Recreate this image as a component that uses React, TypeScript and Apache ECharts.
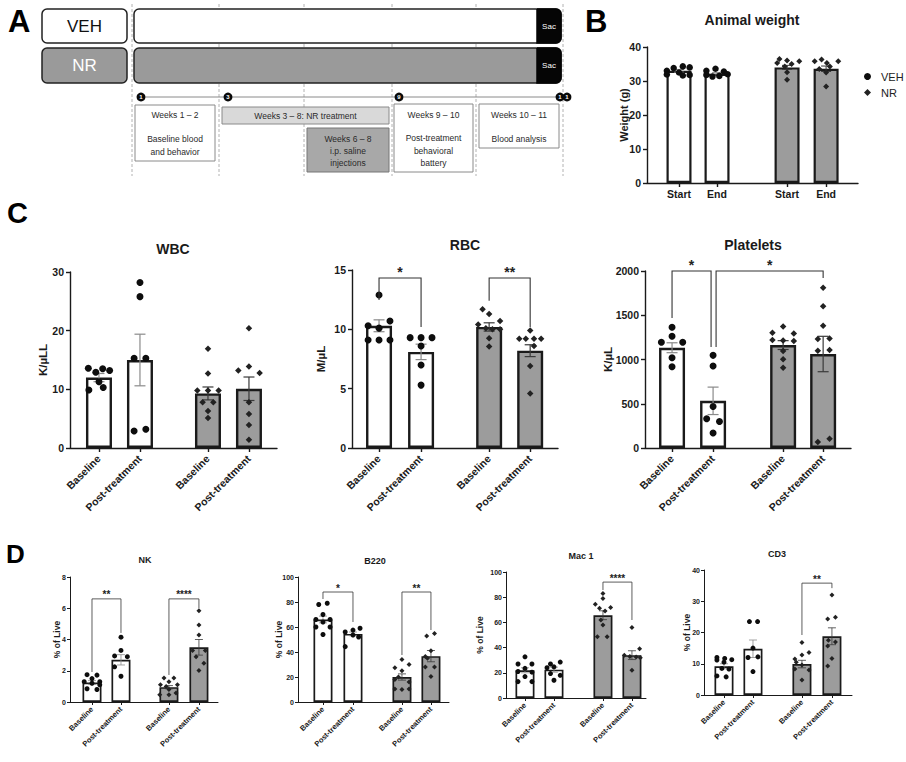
import React, { useEffect, useRef } from "react";
import * as echarts from "echarts";

const FONT = "Arial, 'Liberation Sans', Helvetica, sans-serif";

// ---------------- categories / tick labels ----------------
const bloodLabels = ["Baseline", "Post-treatment", "Baseline", "Post-treatment"];
const weightLabels = ["Start", "End", "Start", "End"];
const groupOfBar = [0, 0, 1, 1]; // 0 = VEH, 1 = NR
const legendNames = ["VEH", "NR"];

// ---------------- Panel B: Animal weight ----------------
const weightTicks = [0, 10, 20, 30, 40];
const weightMeans = [33.0, 32.1, 34.0, 33.6];
const weightSem = [0.4, 0.35, 0.6, 0.8];
const weightPoints = [
  [34.3, 34.0, 33.8, 33.0, 32.5, 31.9, 31.8, 31.6],
  [33.6, 33.0, 32.8, 32.0, 31.8, 31.5, 31.3],
  [36.5, 36.0, 35.8, 35.3, 35.0, 34.3, 32.6, 30.4],
  [36.3, 35.8, 35.8, 35.3, 34.3, 33.5, 32.5, 28.4],
];
const weightJitter = [
  [0.5, 1.4, -0.7, -1.6, 0, -1.6, 1.4, 0.5],
  [-0.2, -1.4, 0.9, 1.4, -1.4, 0.3, -0.6],
  [-1, 0, 1.6, -1.3, 0.6, -0.3, 0, 0],
  [-0.6, -1.5, 1.6, 0.1, 0.5, -0.9, 0, 0],
];

// ---------------- Panel C: WBC ----------------
const wbcTicks = [0, 10, 20, 30];
const wbcMeans = [12.0, 15.0, 9.3, 10.1];
const wbcSem = [0.7, 4.4, 1.1, 2.0];
const wbcPoints = [
  [13.6, 13.5, 13.2, 12.9, 11.3, 10.3, 9.9],
  [28.2, 25.8, 15.3, 15.3, 3.2, 2.9],
  [16.9, 12.7, 9.8, 9.8, 9.8, 7.8, 7.8, 6.3, 5.1],
  [20.4, 13.9, 13.2, 12.8, 7.8, 5.8, 3.9, 1.4],
];
const wbcJitter = [
  [-1, 0.35, 1, -0.3, 0, 0.4, -0.95],
  [0, 0, -0.55, 0.55, 0.55, -0.55],
  [0, 0, -1, 0, 1, -0.5, 0.5, 0, 0],
  [0, 0, -1, 1, 0, 0, 0, 0],
];

// ---------------- Panel C: RBC ----------------
const rbcTicks = [0, 5, 10, 15];
const rbcMeans = [10.3, 8.1, 10.2, 8.2];
const rbcSem = [0.5, 0.65, 0.35, 0.5];
const rbcPoints = [
  [12.9, 10.7, 10.3, 10.1, 9.1, 9.1, 9.1],
  [9.3, 9.3, 9.3, 8.6, 7.0, 5.3],
  [11.7, 11.3, 10.7, 10.4, 10.1, 10.0, 10.0, 9.25, 8.55],
  [9.9, 9.2, 9.2, 9.2, 9.2, 8.6, 6.9, 4.6],
];
const rbcJitter = [
  [0, 1, -1, 0, -1, 0, 1],
  [-1, 0, 1, 0, 0, 0],
  [-0.6, 0, 1, -1, -0.3, 0.3, 1, 0, 0],
  [0, -1, -0.4, 0.35, 1, 0.35, 0, 0],
];
const rbcBrackets = [
  [0, 1, 14.33, 12.47, 10.2, "*"],
  [2, 3, 14.33, 12.4, 10.2, "**"],
];

// ---------------- Panel C: Platelets ----------------
const pltTicks = [0, 500, 1000, 1500, 2000];
const pltMeans = [1133, 533, 1163, 1062];
const pltSem = [56, 155, 50, 200];
const pltPoints = [
  [1365, 1262, 1195, 1195, 1020, 918],
  [1047, 927, 469, 330, 300, 169],
  [1373, 1302, 1294, 1219, 1215, 1208, 1096, 1002, 908],
  [1812, 1602, 1381, 1238, 1231, 1107, 1099, 105, 68],
];
const pltJitter = [
  [0, 0, -1, 1, 0, 0],
  [0, 0, 0, -0.6, 0.6, 0],
  [0, -1, 1, -1, 0, 1, 0, 0, 0],
  [0, 0, 0, 0.6, -0.5, 0.6, -0.5, 0.6, -0.5],
];
const pltBrackets = [
  [0, 1, 2000, 1469, 1141, "*"],
  [1, 3, 2000, 1141, 1921, "*"],
];

// ---------------- Panel D: NK ----------------
const nkTicks = [0, 2, 4, 6, 8];
const nkMeans = [1.25, 2.7, 0.95, 3.5];
const nkSem = [0.12, 0.33, 0.1, 0.5];
const nkPoints = [
  [1.75, 1.72, 1.5, 1.3, 1.3, 1.2, 1.1, 0.85, 0.8],
  [4.15, 3.3, 2.95, 2.9, 2.25, 1.65],
  [1.53, 1.53, 1.3, 1.1, 1.1, 1.0, 0.8, 0.57, 0.47, 0.47],
  [5.84, 4.93, 4.29, 3.3, 3.3, 2.9, 2.48, 2.02],
];
const nkJitter = [
  [-0.7, 0.7, 0, -1.1, 1.1, 0, 1.1, -0.7, 0.7],
  [0, 0, -0.9, 0.9, -0.9, 0],
  [-0.7, 0.7, 0, -1.2, 1.2, -0.4, 0, 1, -1.3, 0],
  [0, 0, 0, -0.9, 0.9, -0.4, 0.7, 0],
];
const nkBrackets = [
  [0, 1, 6.6, 1.92, 4.42, "**"],
  [2, 3, 6.6, 1.73, 6.0, "****"],
];

// ---------------- Panel D: B220 ----------------
const b220Ticks = [0, 20, 40, 60, 80, 100];
const b220Means = [66, 54.5, 20, 36.7];
const b220Sem = [2.7, 1.5, 2.5, 4.5];
const b220Points = [
  [79, 78, 70, 66, 66, 64, 60, 60, 54],
  [59, 57.5, 56, 53.6, 52, 44.3],
  [34, 30, 27.5, 25, 20, 18, 16, 10.5, 10, 10.5],
  [54.9, 52.8, 41, 36.5, 35, 28, 28, 20.4],
];
const b220Jitter = [
  [0.6, -0.6, 0, -1, 1, 0, -1, 1, 0],
  [1, 0, -1.1, 0, 0.8, -1.1],
  [0, 1, -1, 0, -0.5, -1, 1, -1, 0, 1],
  [0.5, -0.6, 0, -0.8, -0.5, -0.8, 0.5, 0],
];
const b220Brackets = [
  [0, 1, 88, 82.4, 64, "*"],
  [2, 3, 88, 37.6, 57.6, "**"],
];

// ---------------- Panel D: Mac 1 ----------------
const mac1Ticks = [0, 20, 40, 60, 80, 100];
const mac1Means = [22, 22.5, 65.7, 34];
const mac1Sem = [2, 2, 3.5, 3.5];
const mac1Points = [
  [32.7, 27, 27, 23.5, 21, 20.5, 17, 13, 13],
  [28.5, 27, 24.7, 24, 19.4, 18, 14.1],
  [83, 79, 74.5, 71.8, 71.3, 69, 62, 58, 48.7, 48.7],
  [56, 39, 34, 33, 32.5, 32, 22],
];
const mac1Jitter = [
  [0, -1, 1, 0, -1, 1, 0, -1, 1],
  [0.9, -0.5, 0, -1, -0.5, 0.9, 0],
  [0, 0, -1.1, 1.1, -0.5, 0.3, -0.3, 0, -0.8, 0.6],
  [0, 1.1, -1.1, -0.3, 0.6, 1.2, 0],
];
const mac1Brackets = [[2, 3, 92, 85.7, 61.9, "****"]];

// ---------------- Panel D: CD3 ----------------
const cd3Ticks = [0, 10, 20, 30, 40];
const cd3Means = [9.2, 14.8, 9.9, 18.8];
const cd3Sem = [0.8, 2.8, 1.2, 2.7];
const cd3Points = [
  [12, 11.7, 11.3, 11.2, 10.5, 8.5, 8.3, 6.1, 5.8],
  [23.5, 23.5, 15, 12.2, 12, 7.5],
  [16.8, 13.6, 12.8, 11.5, 10.5, 9.6, 8.3, 8, 4.8],
  [32, 24.9, 24.3, 17.5, 17, 15.7, 11.7, 9.3],
];
const cd3Jitter = [
  [-1, 0.1, 1.1, -1, 0, -0.3, 0.7, -1, 0.3],
  [-0.5, 0.65, 0, 0.7, -0.7, 0],
  [0, 1, 0, -1, -0.8, 0, -1, 1, 0],
  [0, 0.5, -0.6, -0.5, 0.5, -0.6, 0, -0.6],
];
const cd3Brackets = [[2, 3, 35.8, 19.2, 34.2, "**"]];

// ---------------- layout & style (not data) ----------------
const styleB = { barWidth: 25, barBorder: 2.2, axisWidth: 1.4, tickLen: 4, tickFont: 10.5, labelFont: 10.5, nameFont: 11, dot: 6.5, diamond: 6, jitterStep: 0.2, errWidth: 1, capHalf: 5, bracketWidth: 1.1, starFont: 14, starGap: 6, labelMargin: 5, yLabelMargin: 6, rotate: 0 };
const styleC = { barWidth: 26, barBorder: 2.4, axisWidth: 1.4, tickLen: 4, tickFont: 10.5, labelFont: 10.5, nameFont: 11.5, dot: 7, diamond: 6.5, jitterStep: 0.26, errWidth: 1.2, capHalf: 5.5, bracketWidth: 1.1, starFont: 14, starGap: 6, labelMargin: 9, yLabelMargin: 6, rotate: 45 };
const styleD = { barWidth: 19, barBorder: 1.7, axisWidth: 1, tickLen: 3, tickFont: 7, labelFont: 7.5, nameFont: 8.5, dot: 5, diamond: 5, jitterStep: 0.24, errWidth: 0.8, capHalf: 4, bracketWidth: 0.8, starFont: 10, starGap: 4, labelMargin: 6, yLabelMargin: 4, rotate: 45 };

const panels = [
  { L: { left: 647, top: 47, width: 211, height: 136, xMax: 5.55, xPos: [0.842, 1.842, 3.684, 4.711], nameGap: 18 }, S: styleB, labels: weightLabels, ticks: weightTicks, means: weightMeans, sem: weightSem, points: weightPoints, jitter: weightJitter, brackets: [] as any[], yName: "Weight (g)" },
  { L: { left: 70, top: 272, width: 207, height: 176, xMax: 5.05, xPos: [0.707, 1.707, 3.366, 4.366], nameGap: 21 }, S: styleC, labels: bloodLabels, ticks: wbcTicks, means: wbcMeans, sem: wbcSem, points: wbcPoints, jitter: wbcJitter, brackets: [] as any[], yName: "K/µLL" },
  { L: { left: 352, top: 270, width: 206, height: 178, xMax: 4.9, xPos: [0.643, 1.643, 3.262, 4.238], nameGap: 25 }, S: styleC, labels: bloodLabels, ticks: rbcTicks, means: rbcMeans, sem: rbcSem, points: rbcPoints, jitter: rbcJitter, brackets: rbcBrackets, yName: "M/µL" },
  { L: { left: 645, top: 271, width: 206, height: 177, xMax: 5.02, xPos: [0.659, 1.659, 3.366, 4.341], nameGap: 31 }, S: styleC, labels: bloodLabels, ticks: pltTicks, means: pltMeans, sem: pltSem, points: pltPoints, jitter: pltJitter, brackets: pltBrackets, yName: "K/µL" },
  { L: { left: 70, top: 577, width: 148, height: 125, xMax: 5.02, xPos: [0.746, 1.729, 3.356, 4.373], nameGap: 9 }, S: styleD, labels: bloodLabels, ticks: nkTicks, means: nkMeans, sem: nkSem, points: nkPoints, jitter: nkJitter, brackets: nkBrackets, yName: "% of Live" },
  { L: { left: 298, top: 577, width: 151, height: 125, xMax: 5.12, xPos: [0.847, 1.864, 3.525, 4.508], nameGap: 15 }, S: styleD, labels: bloodLabels, ticks: b220Ticks, means: b220Means, sem: b220Sem, points: b220Points, jitter: b220Jitter, brackets: b220Brackets, yName: "% of Live" },
  { L: { left: 506, top: 572, width: 140, height: 126, xMax: 4.83, xPos: [0.655, 1.655, 3.345, 4.345], nameGap: 22 }, S: styleD, labels: bloodLabels, ticks: mac1Ticks, means: mac1Means, sem: mac1Sem, points: mac1Points, jitter: mac1Jitter, brackets: mac1Brackets, yName: "% of Live" },
  { L: { left: 704, top: 570, width: 148, height: 125, xMax: 5.02, xPos: [0.678, 1.661, 3.322, 4.339], nameGap: 13 }, S: styleD, labels: bloodLabels, ticks: cd3Ticks, means: cd3Means, sem: cd3Sem, points: cd3Points, jitter: cd3Jitter, brackets: cd3Brackets, yName: "% of Live" },
];

const titles = [
  { text: "Animal weight", x: 752, y: 20, size: 14 },
  { text: "WBC", x: 173, y: 249, size: 14 },
  { text: "RBC", x: 465, y: 245, size: 14 },
  { text: "Platelets", x: 753, y: 245, size: 14 },
  { text: "NK", x: 145, y: 560, size: 9 },
  { text: "B220", x: 375, y: 561, size: 9 },
  { text: "Mac 1", x: 581, y: 556, size: 9 },
  { text: "CD3", x: 777, y: 554, size: 9 },
];
const panelLetters = [
  { text: "A", x: 8, y: 21, size: 31 },
  { text: "B", x: 585, y: 21, size: 31 },
  { text: "C", x: 7, y: 213, size: 29 },
  { text: "D", x: 6, y: 554, size: 26 },
];

const INK = "#1a1a1a";
const NR_FILL = "#9c9c9c";

function buildPanels() {
  const grid: any[] = [];
  const xAxis: any[] = [];
  const yAxis: any[] = [];
  const series: any[] = [];
  panels.forEach((p, gi) => {
    const { L, S } = p;
    grid.push({ left: L.left, top: L.top, width: L.width, height: L.height, containLabel: false, outerBoundsMode: "none" });
    xAxis.push({
      gridIndex: gi, type: "value", min: 0, max: L.xMax,
      axisLine: { show: true, onZero: false, lineStyle: { color: INK, width: S.axisWidth } },
      axisTick: { show: true, customValues: L.xPos, length: S.tickLen, lineStyle: { color: INK, width: S.axisWidth } },
      axisLabel: {
        show: true, customValues: L.xPos, rotate: S.rotate, margin: S.labelMargin,
        fontSize: S.labelFont, fontWeight: "bold", color: INK, fontFamily: FONT,
        formatter: (v: number) => {
          const i = L.xPos.findIndex((q) => Math.abs(q - v) < 1e-6);
          return i >= 0 ? p.labels[i] : "";
        },
      },
      splitLine: { show: false },
    });
    const t = p.ticks;
    yAxis.push({
      gridIndex: gi, type: "value", min: t[0], max: t[t.length - 1], interval: t[1] - t[0],
      name: p.yName, nameLocation: "middle", nameGap: L.nameGap, nameMoveOverlap: false,
      nameTextStyle: { fontSize: S.nameFont, fontWeight: "bold", color: INK, fontFamily: FONT },
      axisLine: { show: true, lineStyle: { color: INK, width: S.axisWidth } },
      axisTick: { show: true, length: S.tickLen, lineStyle: { color: INK, width: S.axisWidth } },
      axisLabel: { fontSize: S.tickFont, fontWeight: "bold", color: INK, margin: S.yLabelMargin, fontFamily: FONT, formatter: (v: number) => String(v) },
      splitLine: { show: false },
    });
    // bars
    series.push({
      type: "bar", name: "mean" + gi, xAxisIndex: gi, yAxisIndex: gi, barWidth: S.barWidth, silent: true, z: 2,
      data: p.means.map((m, i) => ({ value: [L.xPos[i], m], itemStyle: { color: groupOfBar[i] ? NR_FILL : "#ffffff", borderColor: INK, borderWidth: S.barBorder } })),
    });
    // error bars (mean ± SEM)
    series.push({
      type: "custom", name: "sem" + gi, xAxisIndex: gi, yAxisIndex: gi, silent: true, z: 3, clip: false,
      data: p.means.map((m, i) => [L.xPos[i], m, p.sem[i], groupOfBar[i]]),
      renderItem: (_params: any, api: any) => {
        const x = api.value(0), m = api.value(1), s = api.value(2), g = api.value(3);
        const top = api.coord([x, m + s]);
        const bot = api.coord([x, m - s]);
        const st = { stroke: g ? "#3a3a3a" : "#8a8a8a", lineWidth: S.errWidth };
        return {
          type: "group",
          children: [
            { type: "line", shape: { x1: top[0], y1: top[1], x2: bot[0], y2: bot[1] }, style: st },
            { type: "line", shape: { x1: top[0] - S.capHalf, y1: top[1], x2: top[0] + S.capHalf, y2: top[1] }, style: st },
            { type: "line", shape: { x1: bot[0] - S.capHalf, y1: bot[1], x2: bot[0] + S.capHalf, y2: bot[1] }, style: st },
          ],
        };
      },
    });
    // individual animals
    [0, 1].forEach((g) => {
      const data: number[][] = [];
      p.points.forEach((arr, bi) => {
        if (groupOfBar[bi] !== g) return;
        arr.forEach((v, k) => data.push([L.xPos[bi] + p.jitter[bi][k] * S.jitterStep, v]));
      });
      series.push({
        type: "scatter", name: legendNames[g], xAxisIndex: gi, yAxisIndex: gi, silent: true, z: 4,
        symbol: g ? "diamond" : "circle", symbolSize: g ? S.diamond : S.dot,
        itemStyle: { color: g ? "#222222" : "#0d0d0d", opacity: 1 },
        data,
      });
    });
    // significance brackets
    if (p.brackets.length) {
      const br = p.brackets;
      series.push({
        type: "custom", name: "sig" + gi, xAxisIndex: gi, yAxisIndex: gi, silent: true, z: 5, clip: false,
        data: br.map((b: any) => [L.xPos[b[0]], b[2]]),
        renderItem: (params: any, api: any) => {
          const b = br[params.dataIndex];
          const shareLeft = br.some((o: any) => o !== b && o[1] === b[0]);
          const shareRight = br.some((o: any) => o !== b && o[0] === b[1]);
          const x1 = L.xPos[b[0]], x2 = L.xPos[b[1]];
          const pL = api.coord([x1, b[3]]);
          const pLT = api.coord([x1, b[2]]);
          const pRT = api.coord([x2, b[2]]);
          const pR = api.coord([x2, b[4]]);
          const dl = shareLeft ? 3 : 0;
          const dr = shareRight ? -2 : 0;
          return {
            type: "group",
            children: [
              {
                type: "polyline",
                shape: { points: [[pL[0] + dl, pL[1]], [pLT[0] + dl, pLT[1]], [pRT[0] + dr, pRT[1]], [pR[0] + dr, pR[1]]] },
                style: { stroke: "#333", lineWidth: S.bracketWidth, fill: "none" },
              },
              {
                type: "text", x: (pLT[0] + dl + pRT[0] + dr) / 2, y: pLT[1] - S.starGap,
                style: { text: b[5], align: "center", verticalAlign: "middle", fontSize: S.starFont, fontWeight: "bold", fontFamily: FONT, fill: "#222" },
              },
            ],
          };
        },
      });
    }
  });
  return { grid, xAxis, yAxis, series };
}

function timelineGraphics() {
  const els: any[] = [];
  const dashX = [132, 219, 304, 392, 476, 563];
  dashX.forEach((x) => els.push({ type: "line", shape: { x1: x, y1: 4, x2: x, y2: 176 }, style: { stroke: "#a0a0a0", lineWidth: 0.8, lineDash: [3, 2] } }));
  const bar = (y: number, h: number, fill: string) => {
    els.push({ type: "rect", shape: { x: 134, y, width: 427, height: h, r: 5 }, style: { fill, stroke: "#222", lineWidth: 1.5 } });
    els.push({ type: "rect", shape: { x: 537, y, width: 24, height: h, r: [0, 5, 5, 0] }, style: { fill: "#050505", stroke: "#050505", lineWidth: 1.5 } });
    els.push({ type: "text", x: 549, y: y + h / 2, style: { text: "Sac", align: "center", verticalAlign: "middle", fontSize: 8, fontFamily: FONT, fill: "#fff" } });
  };
  els.push({ type: "rect", shape: { x: 42, y: 9, width: 85, height: 34, r: 5 }, style: { fill: "#fff", stroke: "#222", lineWidth: 1.5 } });
  els.push({ type: "text", x: 84.5, y: 26.5, style: { text: "VEH", align: "center", verticalAlign: "middle", fontSize: 17, fontFamily: FONT, fill: "#111" } });
  els.push({ type: "rect", shape: { x: 42, y: 48, width: 85, height: 35, r: 5 }, style: { fill: "#9a9a9a", stroke: "#222", lineWidth: 1.5 } });
  els.push({ type: "text", x: 84.5, y: 65.5, style: { text: "NR", align: "center", verticalAlign: "middle", fontSize: 17, fontFamily: FONT, fill: "#fff" } });
  bar(9, 34, "#ffffff");
  bar(48, 35, "#9a9a9a");
  els.push({ type: "line", shape: { x1: 141, y1: 97, x2: 564, y2: 97 }, style: { stroke: "#8a8a8a", lineWidth: 1 } });
  [[141, "1"], [228, "3"], [399, "9"], [560, "1"], [567, "1"]].forEach(([x, t]) => {
    els.push({ type: "circle", shape: { cx: x, cy: 97, r: 4.4 }, style: { fill: "#0a0a0a" } });
    els.push({ type: "text", x, y: 97.3, style: { text: t, align: "center", verticalAlign: "middle", fontSize: 6, fontWeight: "bold", fontFamily: FONT, fill: "#fff" } });
  });
  const box = (x: number, y: number, w: number, h: number, fill: string, stroke: string, lines: [string, number][]) => {
    els.push({ type: "rect", shape: { x, y, width: w, height: h }, style: { fill, stroke, lineWidth: 1 } });
    lines.forEach(([t, ty]) => els.push({ type: "text", x: x + w / 2, y: ty, style: { text: t, align: "center", verticalAlign: "middle", fontSize: 8.5, fontFamily: FONT, fill: "#2a2a2a" } }));
  };
  box(135, 105, 80, 56, "#fff", "#8a8a8a", [["Weeks 1 – 2", 115], ["Baseline blood", 138.5], ["and behavior", 151.5]]);
  box(222, 107, 167, 17, "#d9d9d9", "#8a8a8a", [["Weeks 3 – 8: NR treatment", 115.5]]);
  box(307, 128, 82, 44, "#a8a8a8", "#777", [["Weeks 6 – 8", 138.5], ["i.p. saline", 151], ["injections", 163]]);
  box(394, 104, 79, 68, "#fff", "#8a8a8a", [["Weeks 9 – 10", 114.5], ["Post-treatment", 138], ["behavioral", 150.5], ["battery", 163]]);
  box(479, 104, 80, 44, "#fff", "#8a8a8a", [["Weeks 10 – 11", 114.5], ["Blood analysis", 138.5]]);
  return els;
}

export default function App() {
  const ref = useRef<HTMLDivElement>(null);
  useEffect(() => {
    if (!ref.current) return;
    const chart = echarts.init(ref.current, undefined, { renderer: "svg" });
    const { grid, xAxis, yAxis, series } = buildPanels();
    const graphics: any[] = [
      ...timelineGraphics(),
      ...titles.map((t) => ({ type: "text", x: t.x, y: t.y, style: { text: t.text, align: "center", verticalAlign: "middle", fontSize: t.size, fontWeight: "bold", fontFamily: FONT, fill: "#1a1a1a" } })),
      ...panelLetters.map((t) => ({ type: "text", x: t.x, y: t.y, style: { text: t.text, align: "left", verticalAlign: "middle", fontSize: t.size, fontWeight: "bold", fontFamily: FONT, fill: "#000" } })),
    ];
    chart.setOption({
      animation: false,
      backgroundColor: "#ffffff",
      textStyle: { fontFamily: FONT },
      legend: {
        data: [{ name: "VEH", icon: "circle" }, { name: "NR", icon: "diamond" }],
        left: 859, top: 66, orient: "vertical", itemWidth: 7, itemHeight: 7, itemGap: 5, selectedMode: false,
        textStyle: { fontSize: 11, color: "#222", fontFamily: FONT, padding: [0, 0, 0, 5] },
      },
      grid, xAxis, yAxis, series,
      graphic: { elements: graphics },
    });
    return () => chart.dispose();
  }, []);
  return <div ref={ref} style={{ position: "absolute", left: 0, top: 0, width: 906, height: 762, background: "#fff" }} />;
}
